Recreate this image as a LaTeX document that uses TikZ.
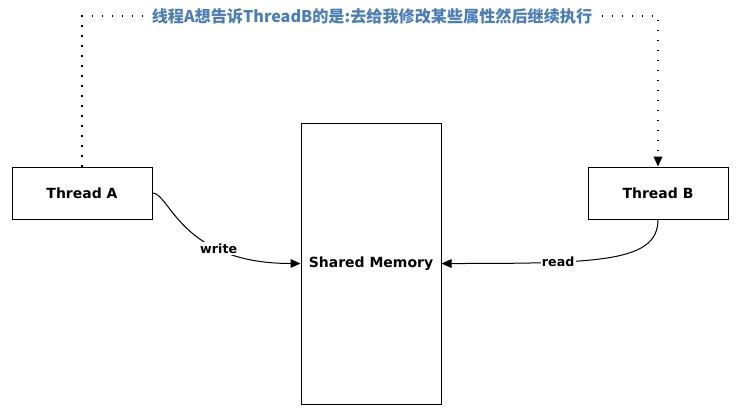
\documentclass[tikz,border=0pt]{standalone}
\usepackage{fontspec}
\setmainfont{DejaVu Sans}
\newfontfamily\cjk{Noto Sans CJK SC}
\usepackage{tikz}
\usetikzlibrary{arrows.meta}
\definecolor{titleblue}{RGB}{74,126,187}

\begin{document}
\begin{tikzpicture}[x=0.75pt,y=-0.75pt,line width=0.75pt,
  box/.style={draw=black,fill=white,inner sep=0pt,minimum width=105pt,font=\bfseries\fontsize{10.5}{12}\selectfont},
  lbl/.style={fill=white,inner sep=1pt,font=\bfseries\fontsize{9.5}{11}\selectfont},
  tip/.style={-{Triangle[length=7.5pt,width=6.5pt]}},
  dots/.style={line width=1.1pt,dash pattern=on 1pt off 6.5pt}]
\useasboundingbox (0,0) rectangle (742,411);
\node (TA) at (82,193) [box,minimum height=39pt] {Thread A};
\node (TB) at (658,193) [box,minimum height=39pt] {Thread B};
\node (SM) at (371,263.5) [box,minimum height=210.75pt] {Shared Memory};
\coordinate (TL) at (82,16);
\coordinate (TR) at (658,16);
\draw[color=black, dots, tip] (TA.north) -- (TL) -- (TR) -- (TB.north);
\node (T) at (372,16) [fill=white,inner sep=1pt,text=titleblue,font=\cjk\bfseries\fontsize{12.1}{14}\selectfont] {线程A想告诉ThreadB的是:去给我修改某些属性然后继续执行};
\draw[color=black, tip] (TA.east) .. controls (170,193) and (180,263.5) .. node[lbl,pos=0.7] {write} (SM.west);
\draw[color=black, tip] (TB.south) .. controls (658,262) and (600,263.5) .. node[lbl,pos=0.7] {read} (SM.east);
\end{tikzpicture}
\end{document}
